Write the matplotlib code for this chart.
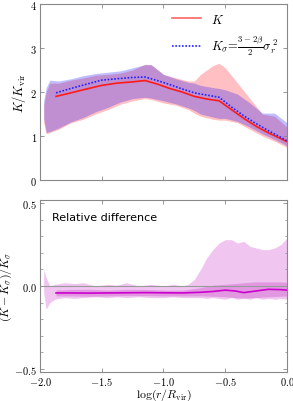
import numpy as np
import matplotlib
matplotlib.use("Agg")
from matplotlib import pyplot as plt
from matplotlib.ticker import FuncFormatter, MultipleLocator

plt.rcParams['mathtext.fontset'] = 'cm'
plt.rcParams['font.size'] = 7

# top panel: median lines
x_line = [-1.87, -1.75, -1.62, -1.5, -1.38, -1.25, -1.15, -1.05, -0.95, -0.85, -0.75, -0.65, -0.55, -0.45, -0.35, -0.25, -0.15, -0.05, 0.0]
k_med = [1.90, 1.98, 2.07, 2.15, 2.20, 2.23, 2.26, 2.18, 2.08, 2.00, 1.90, 1.84, 1.80, 1.60, 1.40, 1.22, 1.07, 0.94, 0.87]
ks_med = [1.98, 2.08, 2.18, 2.27, 2.30, 2.33, 2.34, 2.26, 2.17, 2.07, 1.98, 1.93, 1.88, 1.66, 1.46, 1.28, 1.12, 0.97, 0.89]

# top panel: scatter bands
x_band = [-1.97, -1.95, -1.92, -1.85, -1.75, -1.65, -1.55, -1.45, -1.35, -1.25, -1.15, -1.1, -1.0, -0.9, -0.8, -0.75, -0.7, -0.6, -0.55, -0.5, -0.4, -0.3, -0.2, -0.1, 0.0]
k_hi = [1.7, 2.0, 2.2, 2.2, 2.27, 2.32, 2.38, 2.40, 2.43, 2.50, 2.63, 2.62, 2.40, 2.32, 2.25, 2.25, 2.40, 2.60, 2.65, 2.55, 2.20, 1.85, 1.50, 1.45, 1.20]
k_lo = [1.3, 1.05, 1.08, 1.15, 1.30, 1.38, 1.50, 1.60, 1.72, 1.80, 1.85, 1.83, 1.75, 1.70, 1.60, 1.52, 1.45, 1.38, 1.36, 1.36, 1.30, 1.15, 1.00, 0.88, 0.74]
ks_hi = [1.8, 2.1, 2.27, 2.25, 2.30, 2.37, 2.42, 2.45, 2.48, 2.55, 2.62, 2.62, 2.40, 2.30, 2.22, 2.20, 2.15, 2.10, 2.08, 2.05, 1.95, 1.75, 1.52, 1.52, 1.30]
ks_lo = [1.4, 1.08, 1.10, 1.18, 1.32, 1.42, 1.55, 1.65, 1.77, 1.85, 1.88, 1.86, 1.80, 1.73, 1.64, 1.58, 1.50, 1.43, 1.40, 1.40, 1.33, 1.20, 1.05, 0.92, 0.78]

# bottom panel: relative difference
x_rel = [-1.87, -1.75, -1.6, -1.45, -1.3, -1.15, -1.0, -0.85, -0.7, -0.6, -0.5, -0.42, -0.35, -0.25, -0.15, -0.05, 0.0]
rel_med = [-0.042, -0.042, -0.043, -0.042, -0.041, -0.040, -0.041, -0.042, -0.038, -0.033, -0.025, -0.030, -0.040, -0.030, -0.020, -0.022, -0.025]
rel_in_hi = [-0.025, -0.02, -0.02, -0.025, -0.02, -0.02, -0.025, -0.025, -0.01, 0.005, 0.01, 0.015, 0.02, 0.025, 0.025, 0.025, 0.022]
rel_in_lo = [-0.06, -0.06, -0.062, -0.06, -0.058, -0.058, -0.06, -0.06, -0.06, -0.062, -0.065, -0.07, -0.072, -0.07, -0.065, -0.062, -0.06]
x_rel_out = [-1.97, -1.95, -1.92, -1.88, -1.8, -1.72, -1.65, -1.55, -1.45, -1.38, -1.3, -1.2, -1.1, -1.0, -0.92, -0.85, -0.8, -0.75, -0.7, -0.65, -0.6, -0.55, -0.5, -0.45, -0.4, -0.35, -0.3, -0.25, -0.2, -0.15, -0.1, -0.05, 0.0]
rel_out_hi = [0.10, 0.05, 0.0, 0.01, 0.02, 0.015, 0.02, 0.0, 0.01, 0.005, 0.02, 0.0, 0.01, 0.0, 0.01, 0.0, 0.01, 0.04, 0.10, 0.17, 0.22, 0.26, 0.28, 0.28, 0.26, 0.27, 0.24, 0.23, 0.22, 0.22, 0.23, 0.25, 0.29]
rel_out_lo = [-0.04, -0.14, -0.10, -0.08, -0.07, -0.075, -0.07, -0.065, -0.07, -0.065, -0.07, -0.065, -0.07, -0.07, -0.065, -0.07, -0.07, -0.07, -0.07, -0.075, -0.07, -0.075, -0.08, -0.07, -0.08, -0.075, -0.08, -0.07, -0.08, -0.075, -0.08, -0.075, -0.08]

fig = plt.figure(figsize=(2.93, 4.02), dpi=100)
axTop = fig.add_axes([0.1365, 0.5498, 0.843, 0.4378])
axBot = fig.add_axes([0.1365, 0.0721, 0.843, 0.4279])

def mathFmt(decimals):
    def f(v, pos):
        s = f'{v:.{decimals}f}'
        if s.startswith('-'):
            s = '-' + s[1:]
        return f'${s}$'
    return FuncFormatter(f)

def styleAxis(ax):
    for s in ax.spines.values():
        s.set_color('#888888')
        s.set_linewidth(0.8)
    ax.tick_params(which='both', direction='in', top=True, right=True, colors='#888888',
                   labelcolor='black', labelsize=7.5, pad=2)
    ax.tick_params(which='major', length=3, width=0.6)
    ax.tick_params(which='minor', length=1.8, width=0.5)

# top panel
axTop.fill_between(x_band, k_lo, k_hi, color='#ff1a2a', alpha=0.28, lw=0)
axTop.fill_between(x_band, ks_lo, ks_hi, color='#0000ff', alpha=0.25, lw=0)
axTop.plot(x_line, k_med, color='#ff1a1a', lw=1.2, label=r'$K$')
axTop.plot(x_line, ks_med, color='#2222ff', lw=1.2, ls=(0, (1, 1)), label=r'$K_\sigma\!=\!\frac{3-2\beta}{2}\sigma_r^{\,2}$')
axTop.set_xlim(-2.0, 0.0)
axTop.set_ylim(0, 4)
axTop.set_yticks([0, 1, 2, 3, 4])
axTop.yaxis.set_major_formatter(mathFmt(0))
axTop.set_xticks([-2.0, -1.5, -1.0, -0.5, 0.0])
axTop.set_xticklabels([])
axTop.set_ylabel(r'$K/K_{\rm vir}$', fontsize=9, labelpad=2)
leg = axTop.legend(loc='upper right', frameon=False, fontsize=9, handlelength=2.3,
                   borderaxespad=0.3, labelspacing=0.6)
leg.get_lines()[0].set_color('#ff6666')
styleAxis(axTop)

# bottom panel
axBot.axhline(0, color='#999999', lw=0.8)
axBot.fill_between(x_rel_out, rel_out_lo, rel_out_hi, color='#d040d0', alpha=0.3, lw=0)
axBot.fill_between(x_rel, rel_in_lo, rel_in_hi, color='#c030c0', alpha=0.3, lw=0)
axBot.plot(x_rel, rel_med, color='#cc00cc', lw=1.2)
axBot.set_xlim(-2.0, 0.0)
axBot.set_ylim(-0.52, 0.52)
axBot.set_yticks([-0.5, 0.0, 0.5])
axBot.yaxis.set_minor_locator(MultipleLocator(0.1))
axBot.yaxis.set_major_formatter(mathFmt(1))
axBot.set_xticks([-2.0, -1.5, -1.0, -0.5, 0.0])
axBot.xaxis.set_major_formatter(mathFmt(1))
axBot.set_xlabel(r'$\log(r/R_{\rm vir})$', fontsize=8.5, labelpad=0)
axBot.set_ylabel(r'$(K-K_\sigma)/K_\sigma$', fontsize=8.5, labelpad=0)
axBot.text(0.05, 0.93, 'Relative difference', transform=axBot.transAxes, fontsize=8, va='top')
styleAxis(axBot)

fig.savefig('out.png', dpi=100)
